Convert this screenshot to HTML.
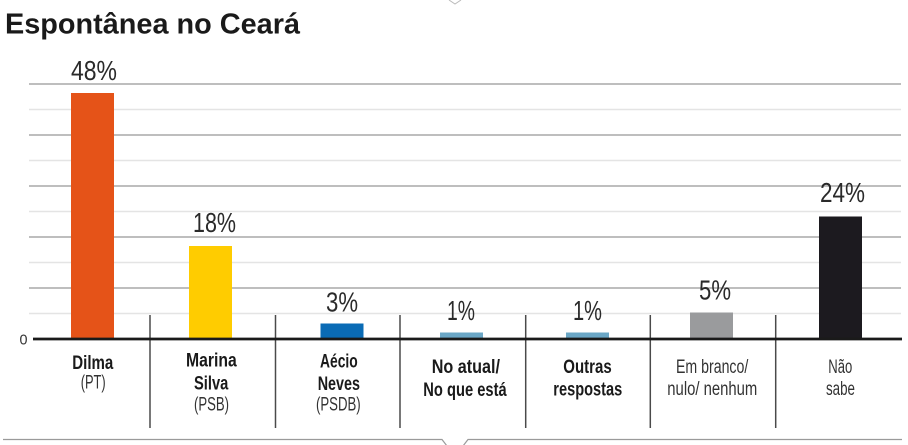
<!DOCTYPE html>
<html>
<head>
<meta charset="utf-8">
<style>
  html, body { margin: 0; padding: 0; background: #ffffff; }
  body { width: 908px; height: 445px; overflow: hidden; }
  svg { display: block; }
  .t { font-family: "Liberation Sans", sans-serif; }
</style>
</head>
<body>
<svg width="908" height="445" viewBox="0 0 908 445" xmlns="http://www.w3.org/2000/svg">
  <rect x="0" y="0" width="908" height="445" fill="#ffffff"/>

  <!-- top notch -->
  <polyline points="449,0 455,4 461,0" fill="none" stroke="#bbbbbb" stroke-width="1"/>

  <!-- Title -->
  <text class="t" x="5" y="33.5" font-size="29" font-weight="bold" fill="#1a1a1a" textLength="295" lengthAdjust="spacingAndGlyphs">Espontânea no Ceará</text>

  <!-- gridlines -->
  <g stroke-width="1.4">
    <line x1="29" y1="313.5" x2="901" y2="313.5" stroke="#e4e4e4"/>
    <line x1="29" y1="288" x2="901" y2="288" stroke="#a9a9a9"/>
    <line x1="29" y1="262.5" x2="901" y2="262.5" stroke="#e4e4e4"/>
    <line x1="29" y1="237" x2="901" y2="237" stroke="#a9a9a9"/>
    <line x1="29" y1="211.5" x2="901" y2="211.5" stroke="#e4e4e4"/>
    <line x1="29" y1="186" x2="901" y2="186" stroke="#a9a9a9"/>
    <line x1="29" y1="160.5" x2="901" y2="160.5" stroke="#e4e4e4"/>
    <line x1="29" y1="135" x2="901" y2="135" stroke="#a9a9a9"/>
    <line x1="29" y1="109.5" x2="901" y2="109.5" stroke="#e4e4e4"/>
    <line x1="29" y1="84" x2="901" y2="84" stroke="#a9a9a9"/>
  </g>

  <!-- separators -->
  <g stroke="#4a4a4a" stroke-width="1.5">
    <line x1="150" y1="315" x2="150" y2="428"/>
    <line x1="275.5" y1="315" x2="275.5" y2="428"/>
    <line x1="400" y1="315" x2="400" y2="428"/>
    <line x1="525.7" y1="315" x2="525.7" y2="428"/>
    <line x1="650.3" y1="315" x2="650.3" y2="428"/>
    <line x1="775.7" y1="315" x2="775.7" y2="428"/>
  </g>

  <!-- bars -->
  <rect x="71" y="93" width="43" height="246" fill="#E55318"/>
  <rect x="189" y="246" width="43" height="93" fill="#FFCC00"/>
  <rect x="320.5" y="323.5" width="43" height="15.5" fill="#0A6BB5"/>
  <rect x="440" y="332.5" width="43" height="6.5" fill="#6BA7C6"/>
  <rect x="566" y="332.5" width="43" height="6.5" fill="#6BA7C6"/>
  <rect x="690" y="312.5" width="43" height="26.5" fill="#9A9B9D"/>
  <rect x="819" y="216.5" width="43" height="122.5" fill="#1C1A1F"/>

  <!-- baseline -->
  <line x1="33" y1="339" x2="902" y2="339" stroke="#1a1a1a" stroke-width="2.8"/>
  <text class="t" x="19.5" y="344.5" font-size="15" fill="#333333" textLength="8" lengthAdjust="spacingAndGlyphs">0</text>

  <!-- value labels -->
  <g class="t" font-size="28" fill="#2a2a2a">
    <text x="71" y="80" textLength="46" lengthAdjust="spacingAndGlyphs">48%</text>
    <text x="193" y="232" textLength="43" lengthAdjust="spacingAndGlyphs">18%</text>
    <text x="326" y="311.5" textLength="32" lengthAdjust="spacingAndGlyphs">3%</text>
    <text x="447" y="320" textLength="28" lengthAdjust="spacingAndGlyphs">1%</text>
    <text x="573" y="320" textLength="29" lengthAdjust="spacingAndGlyphs">1%</text>
    <text x="699" y="299.5" textLength="32" lengthAdjust="spacingAndGlyphs">5%</text>
    <text x="820" y="202" textLength="45" lengthAdjust="spacingAndGlyphs">24%</text>
  </g>

  <!-- category labels -->
  <g class="t" font-size="19">
    <text x="72.3" y="369" font-weight="bold" fill="#1a1a1a" textLength="41" lengthAdjust="spacingAndGlyphs">Dilma</text>
    <text x="80.7" y="388.5" fill="#333333" textLength="25" lengthAdjust="spacingAndGlyphs">(PT)</text>

    <text x="186" y="366.7" font-weight="bold" fill="#1a1a1a" textLength="50.7" lengthAdjust="spacingAndGlyphs">Marina</text>
    <text x="194" y="389.5" font-weight="bold" fill="#1a1a1a" textLength="34.3" lengthAdjust="spacingAndGlyphs">Silva</text>
    <text x="194" y="410.5" fill="#333333" textLength="35" lengthAdjust="spacingAndGlyphs">(PSB)</text>

    <text x="320" y="367.5" font-weight="bold" fill="#1a1a1a" textLength="37.7" lengthAdjust="spacingAndGlyphs">Aécio</text>
    <text x="317.7" y="390" font-weight="bold" fill="#1a1a1a" textLength="42.3" lengthAdjust="spacingAndGlyphs">Neves</text>
    <text x="316" y="410.5" fill="#333333" textLength="44.7" lengthAdjust="spacingAndGlyphs">(PSDB)</text>

    <text x="431.7" y="373" font-weight="bold" fill="#1a1a1a" textLength="68.3" lengthAdjust="spacingAndGlyphs">No atual/</text>
    <text x="423.3" y="396" font-weight="bold" fill="#1a1a1a" textLength="83.4" lengthAdjust="spacingAndGlyphs">No que está</text>

    <text x="563.3" y="373" font-weight="bold" fill="#1a1a1a" textLength="48.4" lengthAdjust="spacingAndGlyphs">Outras</text>
    <text x="553.3" y="395.5" font-weight="bold" fill="#1a1a1a" textLength="69" lengthAdjust="spacingAndGlyphs">respostas</text>

    <text x="676" y="373" fill="#333333" textLength="72.3" lengthAdjust="spacingAndGlyphs">Em branco/</text>
    <text x="667.3" y="395" fill="#333333" textLength="90" lengthAdjust="spacingAndGlyphs">nulo/ nenhum</text>

    <text x="828.3" y="373" fill="#333333" textLength="24" lengthAdjust="spacingAndGlyphs">Não</text>
    <text x="826" y="395" fill="#333333" textLength="29" lengthAdjust="spacingAndGlyphs">sabe</text>
  </g>

  <!-- bottom bracket line with notch -->
  <polyline points="3,439.5 442,439.5 447,446" fill="none" stroke="#9a9a9a" stroke-width="1.2"/>
  <polyline points="463,446 468,439.5 902,439.5" fill="none" stroke="#9a9a9a" stroke-width="1.2"/>
</svg>
</body>
</html>
